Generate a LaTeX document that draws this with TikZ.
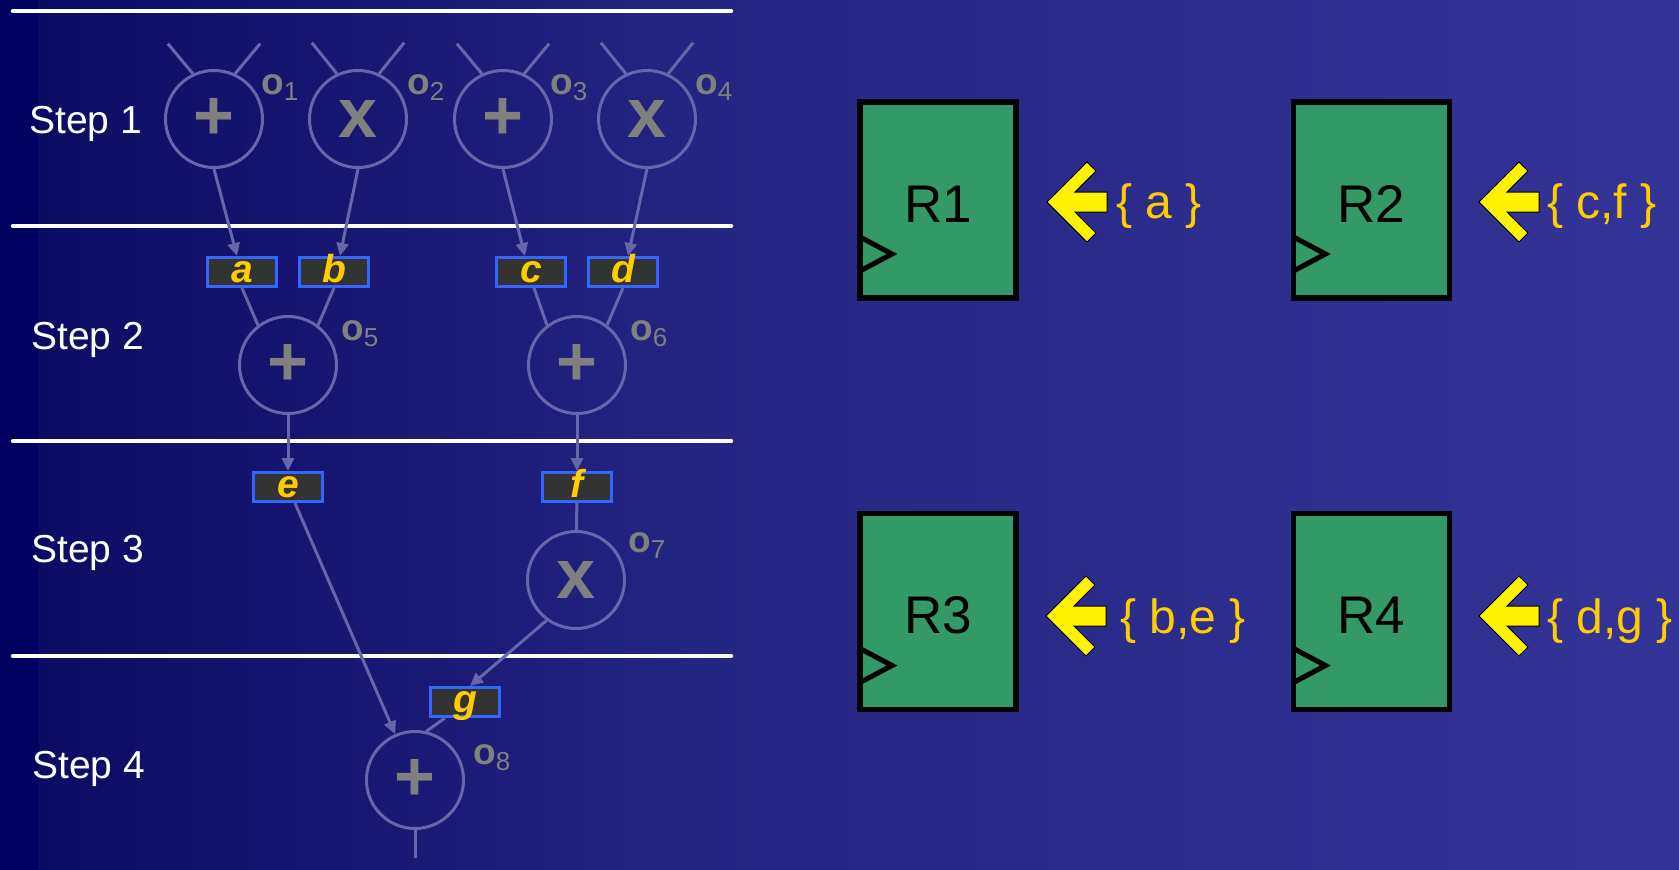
\documentclass[tikz,border=0pt]{standalone}
\usepackage{fontspec}
\setmainfont{Liberation Sans}
\usetikzlibrary{arrows.meta,calc}

\definecolor{bgedge}{RGB}{0,0,96}
\definecolor{bgleft}{RGB}{12,12,100}
\definecolor{bgmid}{RGB}{38,38,132}
\definecolor{bgright}{RGB}{52,52,152}
\definecolor{wirecol}{RGB}{102,102,170}
\definecolor{opgray}{RGB}{128,128,128}
\definecolor{varfill}{RGB}{51,51,51}
\definecolor{varedge}{RGB}{51,102,255}
\definecolor{vartext}{RGB}{255,204,0}
\definecolor{reggreen}{RGB}{51,153,102}

% tikz maps 25bp..75bp of the shading onto the filled box
\pgfdeclarehorizontalshading{slidebg}{100bp}{color(0bp)=(bgedge); color(26.12bp)=(bgedge); color(26.16bp)=(bgleft); color(47.3bp)=(bgmid); color(75bp)=(bgright); color(100bp)=(bgright)}

\newcommand{\opid}[1]{{\bfseries o}\raisebox{-6pt}{\fontsize{26}{26}\selectfont #1}}

\begin{document}
\begin{tikzpicture}[x=1pt, y=-1pt,
  op/.style={circle, draw=wirecol, line width=3pt, minimum size=97pt, inner sep=0pt, text=opgray, font=\fontsize{70}{70}\selectfont\bfseries},
  var/.style={rectangle, draw=varedge, fill=varfill, line width=3pt, minimum width=69pt, inner sep=0pt, text height=25pt, text depth=4pt, text=vartext, font=\fontsize{39}{39}\selectfont\bfseries\itshape},
  olabel/.style={anchor=base west, inner sep=0pt, text=opgray, font=\fontsize{37}{37}\selectfont},
  steplabel/.style={anchor=base west, inner sep=0pt, text=white, font=\fontsize{39}{39}\selectfont},
  sep/.style={draw=white, line width=4.5pt, line cap=round},
  wire/.style={draw=wirecol, line width=3pt},
  arr/.style={wire, -{Triangle[length=13pt,width=12pt]}},
  reg/.style={rectangle, draw=black, fill=reggreen, line width=5.5pt, outer sep=0pt, minimum width=156pt, minimum height=196pt, text height=44pt, text depth=0pt, font=\fontsize{53}{53}\selectfont},
  clk/.style={draw=black, line width=5pt},
  regset/.style={anchor=base west, inner sep=0pt, text=vartext, font=\fontsize{48}{48}\selectfont},
  loadarrow/.pic={\filldraw[fill=yellow, draw=black, line width=1pt] (0,0) -- (40,-40) -- (49,-31) -- (28,-10) -- (60,-10) -- (60,10) -- (28,10) -- (49,31) -- (40,40) -- cycle;}
]

  \useasboundingbox (0,0) rectangle (1679,870);
  \shade[shading=slidebg] (0,0) rectangle (1679,870);

  % control steps
  \draw[sep] (13,11) -- (731,11);
  \draw[sep] (13,226) -- (731,226);
  \draw[sep] (13,441) -- (731,441);
  \draw[sep] (13,656) -- (731,656);

  \node[steplabel] (step1) at (29,133) {Step 1};
  \node[steplabel] (step2) at (31,349) {Step 2};
  \node[steplabel] (step3) at (31,562) {Step 3};
  \node[steplabel] (step4) at (32,778) {Step 4};

  \node[op] (o1) at (214,119) {+};
  \node[op] (o2) at (358,119) {x};
  \node[op] (o3) at (503,119) {+};
  \node[op] (o4) at (647,119) {x};
  \node[op] (o5) at (288,365) {+};
  \node[op] (o6) at (577,365) {+};
  \node[op] (o7) at (576,580) {x};
  \node[op] (o8) at (415,780) {+};

  \node[olabel] (ol1) at (261,94) {\opid{1}};
  \node[olabel] (ol2) at (407,94) {\opid{2}};
  \node[olabel] (ol3) at (550,94) {\opid{3}};
  \node[olabel] (ol4) at (695,94) {\opid{4}};
  \node[olabel] (ol5) at (341,340) {\opid{5}};
  \node[olabel] (ol6) at (630,340) {\opid{6}};
  \node[olabel] (ol7) at (628,552) {\opid{7}};
  \node[olabel] (ol8) at (473,764) {\opid{8}};

  % values
  \node[var] (a) at (242,272) {a};
  \node[var] (b) at (334,272) {b};
  \node[var] (c) at (531,272) {c};
  \node[var] (d) at (623,272) {d};
  \node[var] (e) at (288,487) {e};
  \node[var] (f) at (577,487) {f};
  \node[var] (g) at (465,702) {g};

  \draw[wire] (o1.115) -- ++(-25,-30);
  \draw[wire] (o1.65) -- ++(25,-30);
  \draw[wire] (o2.115) -- ++(-25,-31);
  \draw[wire] (o2.65) -- ++(25,-31);
  \draw[wire] (o3.115) -- ++(-25,-30);
  \draw[wire] (o3.65) -- ++(25,-30);
  \draw[wire] (o4.115) -- ++(-25,-31);
  \draw[wire] (o4.65) -- ++(25,-31);

  \draw[arr] (o1.south) -- ([xshift=-5pt]a.north);
  \draw[arr] (o2.south) -- ([xshift=6pt]b.north);
  \draw[arr] (o3.south) -- ([xshift=-6pt]c.north);
  \draw[arr] (o4.south) -- ([xshift=5pt]d.north);
  \draw[wire] (a.south) -- (o5.127);
  \draw[wire] (b.south) -- (o5.53);
  \draw[wire] ([xshift=3pt]c.south) -- (o6.127);
  \draw[wire] (d.south) -- (o6.53);
  \draw[arr] (o5) -- (e);
  \draw[arr] (o6) -- (f);
  \draw[wire] (f) -- (o7);
  \draw[arr] (o7.234) -- ([xshift=5pt]g.north);
  \draw[arr] (e) -- (o8);
  \draw[wire] ([xshift=-20pt]g.south) -- (o8.77);
  \draw[wire] (o8.south) -- ++(0,28);

  % register binding
  \node[reg] (reg1) at (938,200) {R1};
  \node[reg] (reg2) at (1371.5,200) {R2};
  \node[reg] (reg3) at (938,611.5) {R3};
  \node[reg] (reg4) at (1371.5,611.5) {R4};

  \draw[clk] ($(reg1.south west)+(0,-27)$) -- ++(32,-17) -- ++(-32,-17);
  \draw[clk] ($(reg2.south west)+(0,-27)$) -- ++(32,-17) -- ++(-32,-17);
  \draw[clk] ($(reg3.south west)+(0,-27)$) -- ++(32,-17) -- ++(-32,-17);
  \draw[clk] ($(reg4.south west)+(0,-27)$) -- ++(32,-17) -- ++(-32,-17);

  \pic at (1047,202) {loadarrow};
  \pic at (1479,202) {loadarrow};
  \pic at (1046,616) {loadarrow};
  \pic at (1479,616) {loadarrow};

  \node[regset] (set1) at (1116,218) {\{ a \}};
  \node[regset] (set2) at (1547,218) {\{ c,f \}};
  \node[regset] (set3) at (1120,633) {\{ b,e \}};
  \node[regset] (set4) at (1547,633) {\{ d,g \}};

\end{tikzpicture}
\end{document}
